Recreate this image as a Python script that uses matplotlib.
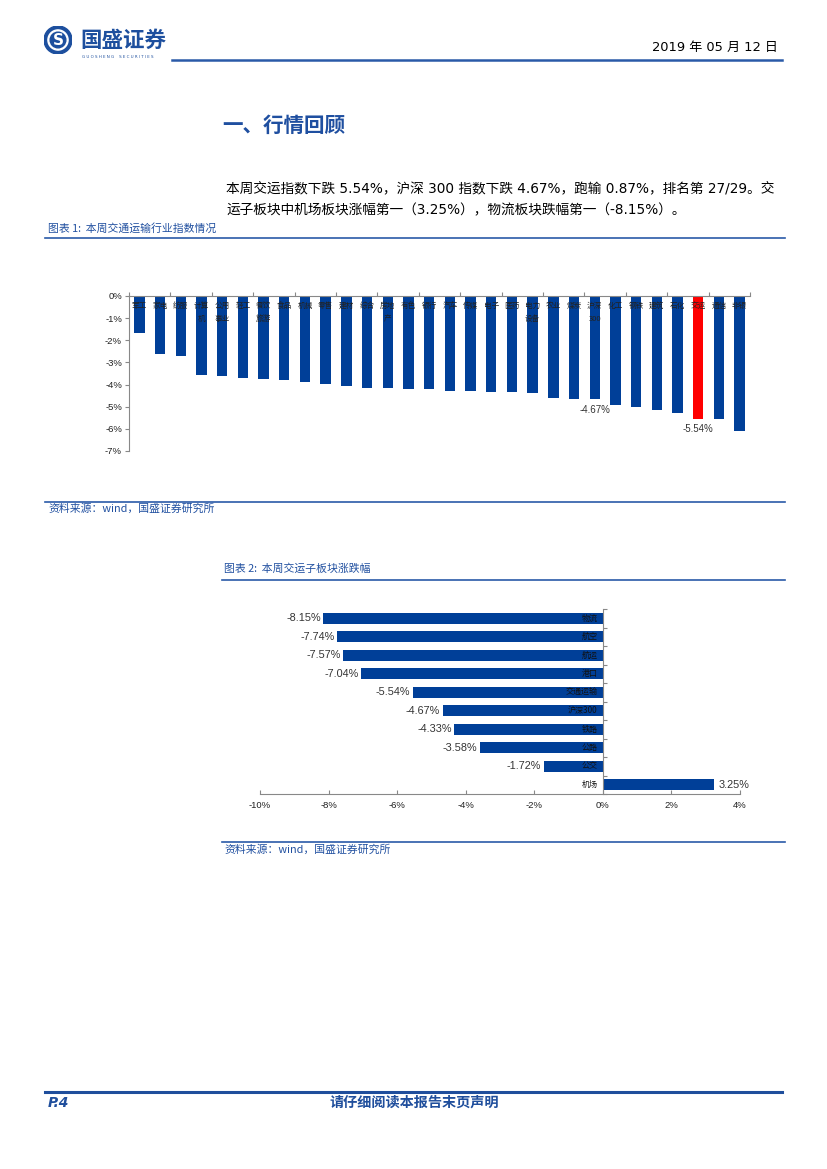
import matplotlib
matplotlib.use("Agg")
import matplotlib.pyplot as plt
from matplotlib.lines import Line2D
from matplotlib.patches import Circle

# ---------------- data ----------------
industries = ["军工", "家电", "纺服", "计算机", "公用事业", "轻工", "餐饮旅游", "食品", "机械", "零售",
              "建材", "综合", "房地产", "有色", "银行", "汽车", "传媒", "电子", "医药", "电力设备",
              "农业", "煤炭", "沪深300", "化工", "钢铁", "建筑", "石化", "交运", "通信", "非银"]
industry_chg = [-1.67, -2.62, -2.71, -3.55, -3.62, -3.70, -3.76, -3.80, -3.87, -3.98,
                -4.06, -4.15, -4.17, -4.18, -4.21, -4.28, -4.28, -4.33, -4.33, -4.37,
                -4.61, -4.65, -4.67, -4.94, -5.01, -5.13, -5.27, -5.54, -5.55, -6.08]
highlight1 = "交运"
labelled1 = ["沪深300", "交运"]
y_ticks1 = [0, -1, -2, -3, -4, -5, -6, -7]

sectors = ["物流", "航空", "航运", "港口", "交通运输", "沪深300", "铁路", "公路", "公交", "机场"]
sector_chg = [-8.15, -7.74, -7.57, -7.04, -5.54, -4.67, -4.33, -3.58, -1.72, 3.25]
x_ticks2 = [-10, -8, -6, -4, -2, 0, 2, 4]

# ---------------- page ----------------
W, H = 827, 1169
fig = plt.figure(figsize=(W / 100, H / 100), dpi=100)
fig.patch.set_facecolor("white")

CJK = ["Noto Sans CJK SC", "DejaVu Sans"]
NUM = ["Liberation Sans", "Noto Sans CJK SC"]
TXT = ["DejaVu Sans", "Noto Sans CJK SC"]
BLUE = "#003f98"
LINEBLUE = "#2a5aa8"
CAPBLUE = "#2150a0"


def fx(x):
    return x / W


def fy(y):
    return 1 - y / H


def hline(x0, x1, y, lw=1.2, color=LINEBLUE):
    fig.add_artist(Line2D([fx(x0), fx(x1)], [fy(y), fy(y)], transform=fig.transFigure,
                          color=color, lw=lw))


def ftext(x, y, s, **kw):
    fig.text(fx(x), fy(y), s, **kw)


def px_axes(x0, y0, x1, y1):
    return fig.add_axes([fx(x0), fy(y1), (x1 - x0) / W, (y1 - y0) / H])


# logo
lax = px_axes(44, 26, 72, 54)
lax.set_xlim(0, 1)
lax.set_ylim(0, 1)
lax.set_aspect("equal")
lax.axis("off")
lax.add_patch(Circle((0.5, 0.5), 0.5, color="#1d4f9e"))
lax.add_patch(Circle((0.5, 0.5), 0.36, color="white"))
lax.add_patch(Circle((0.5, 0.5), 0.28, color="#1d4f9e"))
lax.text(0.5, 0.48, "S", color="white", fontsize=11, fontweight="bold", ha="center", va="center",
         family="DejaVu Sans")

ftext(80, 40, "国盛证券", fontsize=15.5, fontweight="bold", color="#1d4f9e", family=CJK, va="center")
ftext(82, 57, "G U O S H E N G    S E C U R I T I E S", fontsize=2.9, color="#1d4f9e",
      family="DejaVu Sans", va="center")
ftext(778, 47, "2019 年 05 月 12 日", fontsize=9.4, color="black", family=TXT, ha="right", va="center")
hline(172, 782, 60, lw=1.8)

ftext(222, 125, "一、行情回顾", fontsize=14.8, fontweight="bold", color="#1f4fa0", family=CJK, va="center")

ftext(226, 188, "本周交运指数下跌 5.54%，沪深 300 指数下跌 4.67%，跑输 0.87%，排名第 27/29。交",
      fontsize=9.85, family=TXT, va="center")
ftext(226, 210, "运子板块中机场板块涨幅第一（3.25%），物流板块跌幅第一（-8.15%）。",
      fontsize=9.85, family=TXT, va="center")

# chart 1 captions
ftext(48, 228, "图表 1:  本周交通运输行业指数情况", fontsize=7.8, color=CAPBLUE, family=CJK,
      style="italic", va="center")
hline(45, 785, 238)
hline(45, 785, 502)
ftext(48, 509, "资料来源：wind，国盛证券研究所", fontsize=7.8, color=CAPBLUE, family=CJK,
      style="italic", va="center")

# ---------------- chart 1 ----------------
ax1 = px_axes(129, 296, 750, 451)
n1 = len(industries)
xs = list(range(n1))
colors1 = ["#ff0000" if c == highlight1 else BLUE for c in industries]
ax1.bar(xs, industry_chg, width=0.5, color=colors1)
ax1.set_xlim(-0.5, n1 - 0.5)
ax1.set_ylim(-7, 0)
for s in ["right", "bottom"]:
    ax1.spines[s].set_visible(False)
for s in ["left", "top"]:
    ax1.spines[s].set_color("#888888")
    ax1.spines[s].set_linewidth(0.8)
ax1.xaxis.set_ticks_position("top")
ax1.set_xticks([-0.5 + 2 * k for k in range(n1 // 2 + 1)])
ax1.set_xticklabels([])
ax1.tick_params(axis="x", direction="out", length=3, color="#888888", width=0.8)
ax1.set_yticks(y_ticks1)
ax1.set_yticklabels([f"{v}%" for v in y_ticks1], fontsize=6.8, family=NUM, color="#222222")
ax1.tick_params(axis="y", direction="out", length=3, color="#888888", width=0.8, pad=2)
for i, lab in enumerate(industries):
    t = lab if len(lab) <= 2 else lab[:2] + "\n" + lab[2:]
    ax1.text(i, -0.28, t, ha="center", va="top", fontsize=5.5, family=CJK, color="#222222",
             linespacing=1.85)
for i, lab in enumerate(industries):
    if lab in labelled1:
        v = industry_chg[i]
        ax1.annotate(f"{v:.2f}%", (i, v), xytext=(0, -4), textcoords="offset points",
                     ha="center", va="top", fontsize=7, family=NUM, color="#333333")

# chart 2 captions
ftext(224, 569, "图表 2:  本周交运子板块涨跌幅", fontsize=7.8, color=CAPBLUE, family=CJK,
      style="italic", va="center")
hline(222, 785, 580)
hline(222, 785, 842)
ftext(224, 850, "资料来源：wind，国盛证券研究所", fontsize=7.8, color=CAPBLUE, family=CJK,
      style="italic", va="center")

# ---------------- chart 2 ----------------
ax2 = px_axes(260, 609, 740, 794)
n2 = len(sectors)
ys = list(range(n2))
ax2.barh(ys, sector_chg, height=0.6, color=BLUE)
ax2.set_xlim(-10, 4)
ax2.set_ylim(n2 - 0.5, -0.5)
for s in ["right", "top"]:
    ax2.spines[s].set_visible(False)
ax2.spines["left"].set_position(("data", 0))
for s in ["left", "bottom"]:
    ax2.spines[s].set_color("#888888")
    ax2.spines[s].set_linewidth(0.8)
ax2.set_yticks([-0.5 + k for k in range(n2 + 1)])
ax2.set_yticklabels([])
ax2.tick_params(axis="y", direction="in", length=3, color="#888888", width=0.8)
ax2.set_xticks(x_ticks2)
ax2.set_xticklabels([f"{v}%" for v in x_ticks2], fontsize=6.8, family=NUM, color="#222222")
ax2.tick_params(axis="x", direction="in", length=3, color="#888888", width=0.8, pad=5)
for i, (lab, v) in enumerate(zip(sectors, sector_chg)):
    ax2.text(-0.15, i, lab, ha="right", va="center", fontsize=5.8, family=CJK, color="#111111")
    if v < 0:
        ax2.annotate(f"{v:.2f}%", (v, i), xytext=(-2, 0), textcoords="offset points",
                     ha="right", va="center", fontsize=7.8, family=NUM, color="#333333")
    else:
        ax2.annotate(f"{v:.2f}%", (v, i), xytext=(3, 0), textcoords="offset points",
                     ha="left", va="center", fontsize=7.8, family=NUM, color="#333333")

# footer
hline(45, 782, 1092, lw=2.2, color="#1f4e9c")
ftext(48, 1103, "P.4", fontsize=10, fontweight="bold", style="italic", color="#1f4e9c",
      family="DejaVu Sans", va="center")
ftext(414, 1103, "请仔细阅读本报告末页声明", fontsize=10.2, fontweight="bold", style="italic",
      color="#1f4e9c", family=CJK, ha="center", va="center")

fig.savefig("out.png", dpi=100, facecolor="white")
